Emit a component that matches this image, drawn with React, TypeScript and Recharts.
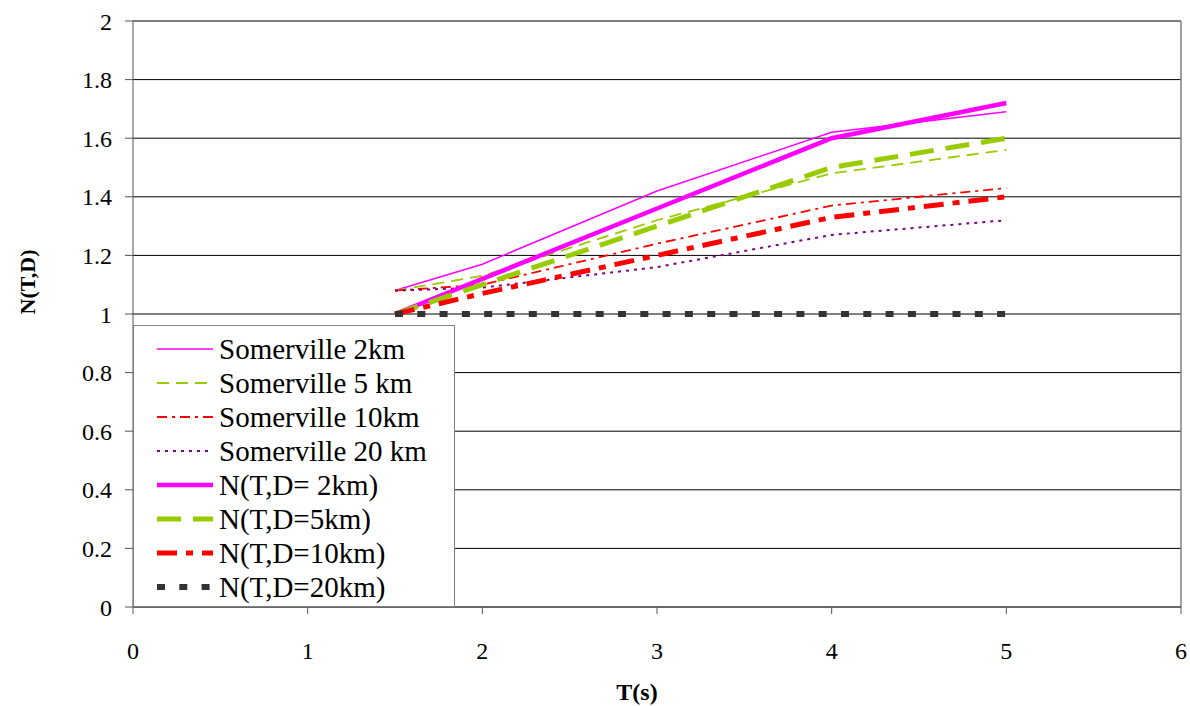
import React from 'react';
import { LineChart, Line, XAxis, YAxis, CartesianGrid, Legend, ReferenceLine } from 'recharts';

// periods T (s)
const periods = [1.5, 2, 3, 4, 5];

// Somerville directivity factors by distance
const somerville2 = [1.08, 1.17, 1.42, 1.62, 1.69];
const somerville5 = [1.08, 1.13, 1.32, 1.48, 1.56];
const somerville10 = [1.08, 1.1, 1.24, 1.37, 1.43];
const somerville20 = [1.08, 1.09, 1.16, 1.27, 1.32];

// proposed N(T,D)
const n2 = [1.0, 1.12, 1.36, 1.6, 1.72];
const n5 = [1.0, 1.1, 1.3, 1.5, 1.6];
const n10 = [1.0, 1.07, 1.2, 1.33, 1.4];
const n20 = [1.0, 1.0, 1.0, 1.0, 1.0];

const xTicks = [0, 1, 2, 3, 4, 5, 6];
const yTicks = [0, 0.2, 0.4, 0.6, 0.8, 1, 1.2, 1.4, 1.6, 1.8, 2];

const series = [
  { key: 's2', name: 'Somerville 2km', values: somerville2, color: '#FF00FF', width: 1.5, dash: undefined },
  { key: 's5', name: 'Somerville 5 km', values: somerville5, color: '#99CC00', width: 1.8, dash: '12 7' },
  { key: 's10', name: 'Somerville 10km', values: somerville10, color: '#FF0000', width: 1.8, dash: '10 5 3 5' },
  { key: 's20', name: 'Somerville 20 km', values: somerville20, color: '#800080', width: 2, dash: '3 5' },
  { key: 'n2', name: 'N(T,D= 2km)', values: n2, color: '#FF00FF', width: 4.5, dash: undefined },
  { key: 'n5', name: 'N(T,D=5km)', values: n5, color: '#99CC00', width: 5, dash: '24 12' },
  { key: 'n10', name: 'N(T,D=10km)', values: n10, color: '#FF0000', width: 5, dash: '20 9 7 9' },
  { key: 'n20', name: 'N(T,D=20km)', values: n20, color: '#333333', width: 6, dash: '8 14.3' },
];

const data = periods.map((t, i) => {
  const row: Record<string, number> = { t };
  series.forEach((s) => {
    row[s.key] = s.values[i];
  });
  return row;
});

const FONT = "'Liberation Serif', Times, 'Times New Roman', 'Noto Serif', 'DejaVu Serif', FreeSerif, serif";

function LegendBox() {
  return (
    <div
      style={{
        width: 322,
        height: 282,
        boxSizing: 'border-box',
        background: '#fff',
        border: '1.5px solid #808080',
        paddingTop: 6,
        fontFamily: FONT,
        fontSize: 29,
        color: '#000',
      }}
    >
      {series.map((s) => (
        <div key={s.key} style={{ display: 'flex', alignItems: 'center', height: 34, whiteSpace: 'nowrap' }}>
          <svg width={56} height={10} style={{ marginLeft: 23, marginRight: 6, flex: 'none' }}>
            <line
              x1={0}
              y1={5}
              x2={56}
              y2={5}
              stroke={s.color}
              strokeWidth={s.width}
              strokeDasharray={s.dash}
            />
          </svg>
          <span>{s.name}</span>
        </div>
      ))}
    </div>
  );
}

const yTitle = (props: any) => {
  const { viewBox } = props;
  const cx = viewBox.x + 27;
  const cy = viewBox.y + viewBox.height / 2 - 32;
  return (
    <text
      x={cx}
      y={cy}
      transform={`rotate(-90, ${cx}, ${cy})`}
      textAnchor="middle"
      dominantBaseline="central"
      style={{ fontFamily: FONT, fontWeight: 'bold', fontSize: 22, fill: '#000' }}
    >
      N(T,D)
    </text>
  );
};

const tickStyle = { fill: '#000', fontFamily: FONT, fontSize: 24, style: { fontFamily: FONT } };

export default function App() {
  return (
    <div style={{ width: 1190, height: 706, background: '#fff', fontFamily: FONT }}>
      <style>{'body{margin:0}'}</style>
      <LineChart
        width={1190}
        height={706}
        data={data}
        margin={{ top: 21, right: 9, bottom: 0, left: 0 }}
        style={{ fontFamily: FONT }}
      >
        <CartesianGrid vertical={false} stroke="#000" strokeWidth={1} />
        <XAxis
          dataKey="t"
          type="number"
          domain={[0, 6]}
          ticks={xTicks}
          height={99}
          stroke="#555"
          tickSize={7}
          tickMargin={28}
          tick={tickStyle}
          label={{
            value: 'T(s)',
            position: 'insideBottom',
            offset: 6,
            dx: -20,
            style: { fontFamily: FONT, fontWeight: 'bold', fontSize: 24, fill: '#000' },
          }}
        />
        <YAxis
          type="number"
          domain={[0, 2]}
          ticks={yTicks}
          width={133}
          stroke="#555"
          tickSize={8}
          tickMargin={13}
          tick={tickStyle}
          label={{ content: yTitle }}
        />
        <ReferenceLine y={2} stroke="#808080" strokeWidth={1.5} />
        <ReferenceLine x={6} stroke="#808080" strokeWidth={1.5} />
        {series.map((s) => (
          <Line
            key={s.key}
            dataKey={s.key}
            name={s.name}
            stroke={s.color}
            strokeWidth={s.width}
            strokeDasharray={s.dash}
            dot={false}
            activeDot={false}
            isAnimationActive={false}
          />
        ))}
        <Legend
          layout="vertical"
          align="center"
          verticalAlign="middle"
          content={() => <LegendBox />}
          wrapperStyle={{ left: 133, top: 325, width: 322, height: 282 }}
        />
      </LineChart>
    </div>
  );
}
